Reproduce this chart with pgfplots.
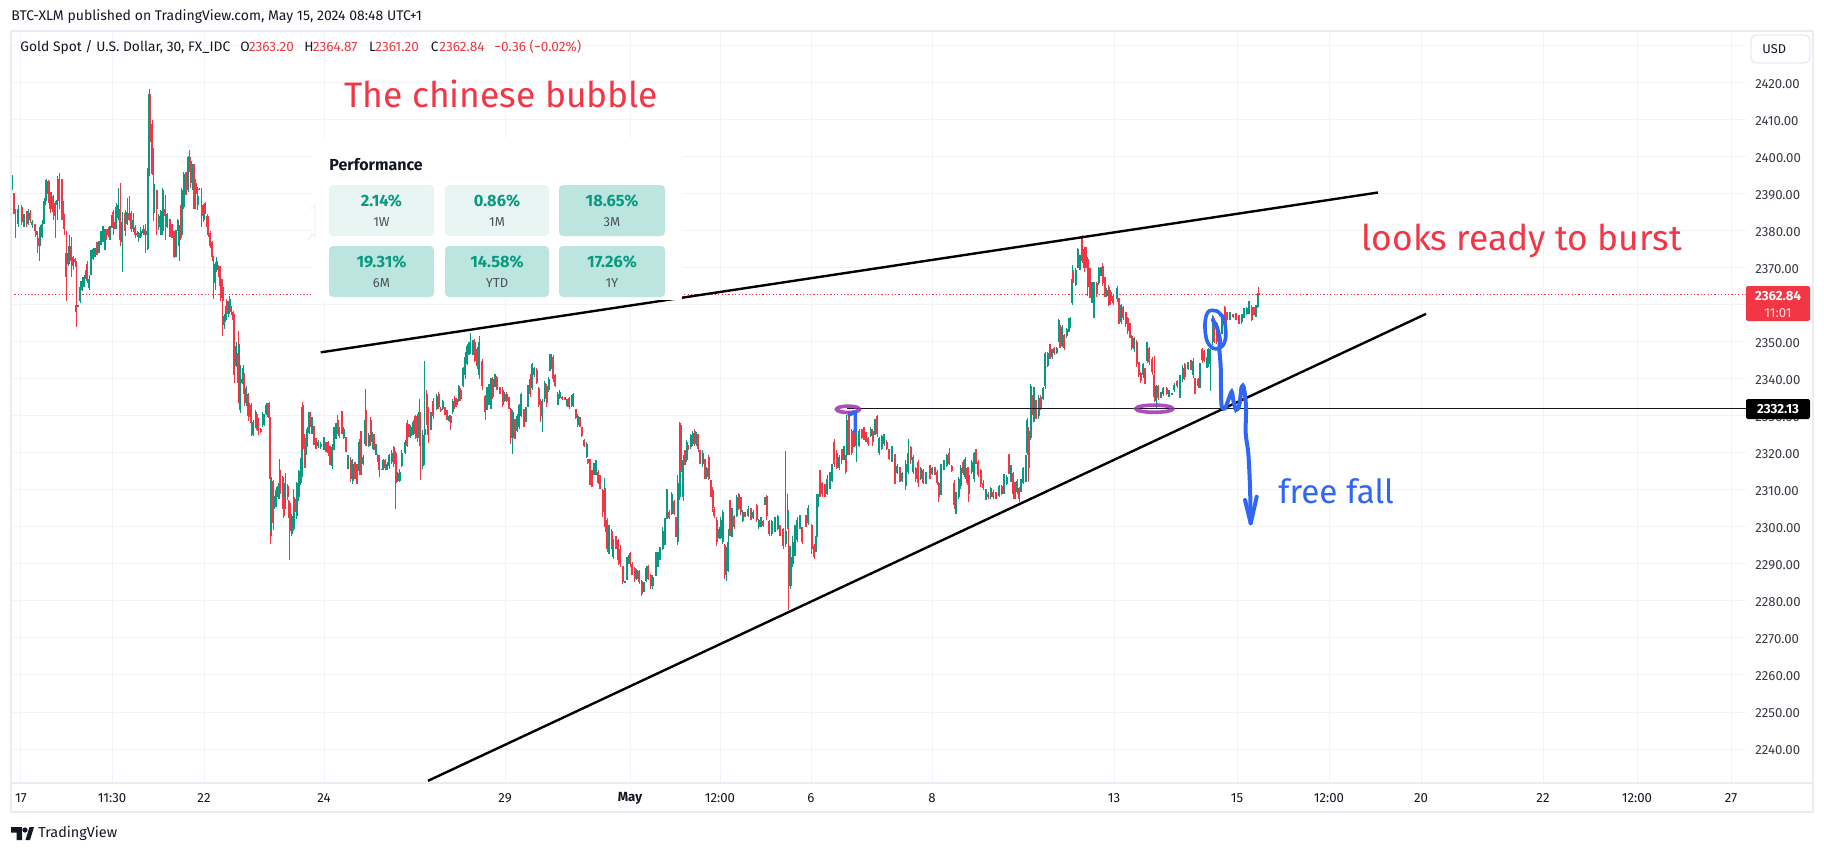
\documentclass[border=0pt]{standalone}
\usepackage{fontspec}
\usepackage{pgfplots}
\usepackage{pgfplotstable}
\pgfplotsset{compat=1.18}
\setmainfont{Fira Sans}
\definecolor{tvred}{HTML}{F23645}
\definecolor{tvgreen}{HTML}{089981}
\definecolor{tvtext}{HTML}{131722}
\definecolor{tvgrid}{HTML}{F2F3F8}
\definecolor{tvframe}{HTML}{E9ECF3}
\definecolor{tilelight}{HTML}{E8F5F2}
\definecolor{tiledark}{HTML}{BDE5DF}
\definecolor{penblue}{HTML}{2F66F5}
\definecolor{penpurple}{HTML}{9C2FB0}
\newcommand\fs[1]{\fontsize{#1}{#1}\selectfont}
\newcommand\lbl[6]{\node[anchor=#3,inner sep=0pt,text=#5,font=\fs{#4}] at (#1,#2) {#6};}
\newcommand\tile[6]{\fill[#5,rounded corners=2pt] (#1,#2) rectangle (#3,#4);
 \lbl{#1/2+#3/2}{#2+16}{center}{8.2}{tvgreen}{\bfseries #6}}
\pgfplotstableread{
x o h l c
12.5 2391.5 2395 2391 2395
14 2390 2390.4 2384.5 2386
15.3 2386 2386 2378 2384.5
18.3 2382 2387 2381 2386
21.7 2386.5 2387 2381.5 2382.5
24 2381.5 2384.5 2381 2384
26.7 2385 2385.5 2381 2382
28.3 2382 2386 2381.5 2385.5
30.3 2385 2385.8 2382.2 2383
32.3 2381.5 2383 2380.7 2382.5
35.3 2382 2382 2378.5 2380
37.3 2380 2380 2374 2379
39.3 2378 2378 2372 2376
40.3 2376.5 2381.5 2376 2381
42.3 2378.5 2383 2378 2382
44.3 2382 2389 2382 2388
45.7 2388 2393.7 2387 2393
46.7 2390 2394 2389.5 2393.5
48.7 2393.5 2393.7 2387.6 2388.5
50.3 2390 2390.5 2385 2386
51.7 2386.5 2390.5 2386 2389.5
53.3 2389 2389.6 2383 2385
55.3 2387.5 2388 2378 2384
57.3 2387 2395 2383 2388.5
59.3 2394 2395.6 2386 2388
62 2393.5 2394 2383 2386.5
63.3 2388 2388 2381.5 2384
64.3 2384 2384.5 2379 2380.5
66.3 2374 2380 2361 2367.5
68.3 2371 2376 2370.5 2374
69.3 2372 2379 2371 2376
71.3 2376 2378.5 2367.5 2372
73.3 2373 2373.3 2369.5 2370.5
75.3 2372.5 2372.8 2370.4 2371.5
76.3 2360 2372 2354 2358
78.3 2359.7 2360 2359.5 2360
80.3 2361 2366.5 2360.5 2365
82.3 2364 2367.5 2363.7 2366.5
84.3 2365 2368.2 2364.8 2367.5
86.3 2367 2370.2 2366.6 2369.5
87.3 2371 2372 2366 2367
89.3 2364.5 2368 2364 2367
91 2368 2375 2368 2374
93.3 2372.5 2375.5 2372.2 2375
95 2373 2375.5 2373 2375
97 2376.5 2376.9 2373.5 2374
99 2374.5 2377.4 2374 2377
101 2376.5 2380 2376.3 2379.5
103 2377 2381.3 2377 2381
105 2376.5 2380.6 2375 2378
106 2380 2380.5 2377.6 2378
108.3 2380.5 2381 2378.5 2379
110 2378.5 2381.3 2377.6 2380.7
112 2381 2384.4 2380.8 2384
113.3 2385 2385.6 2379 2381
115 2382 2382.5 2380.6 2381
116.3 2381 2387.5 2380.5 2386.5
118.3 2383.5 2391.5 2383 2387
120.3 2386 2393 2376 2377.5
122.3 2377 2385 2369 2382.5
125.3 2385 2385.6 2378.7 2380
127.3 2382 2389 2381.5 2385
129.3 2385 2389.5 2382.6 2383
131.3 2385 2385.3 2379.7 2380.5
133.3 2380.5 2385 2379.8 2383
135.3 2381 2381.7 2378.2 2379
137.3 2379.5 2380 2378.5 2379
138.7 2378 2379.7 2377 2379.5
140.7 2378.5 2381 2378.2 2380
143.3 2379.5 2381.5 2379 2380.5
145.3 2380.5 2382 2374 2379
147.3 2379 2380.3 2375 2380
148.3 2380 2397.5 2375 2397
149.3 2395 2418.5 2395 2417
150.3 2415 2417 2404 2404
152.3 2409 2410 2395 2395.5
153.3 2402 2402.5 2382.7 2395
154.3 2386 2392.8 2385 2391
156.7 2391 2391 2379 2386
158.7 2381 2384.6 2380.4 2384
160.7 2379 2385.7 2379 2385.5
162.7 2380 2391.7 2379 2391
165.3 2386 2389.6 2377.7 2384
167.3 2381 2385 2380.7 2384.5
170 2383 2383.3 2378.4 2380
172 2381.5 2382 2378 2378.5
174.3 2380 2380 2372.6 2373
176 2373.5 2380.2 2373 2380
177.7 2380 2383.3 2380 2383
179.3 2376 2381.5 2372 2380
180.7 2385 2387 2377.6 2378
181.7 2379 2391.7 2378.3 2391
183.7 2386.5 2396 2386 2395.5
186 2395.5 2396 2389.6 2390
188.3 2391 2400.2 2390.5 2400
189.7 2400 2402 2396 2396.5
190.7 2399 2400 2391.5 2393
192.7 2392 2398 2391 2396
194 2397.5 2398 2386 2391.5
195.7 2393 2394 2386 2390
197.7 2387 2392 2385.6 2389.5
199.3 2391.2 2391.5 2391 2391.3
201.7 2387 2391.7 2381 2384
203.7 2383 2387.4 2382.5 2387
205.3 2387.5 2387.7 2384.5 2384.5
207.3 2384 2384.5 2380.5 2381
208.3 2384 2384 2378.5 2379
210.3 2379.5 2380 2375.5 2376
212.3 2377 2377.3 2372.5 2373
213.3 2373 2373.2 2361.5 2372
215.3 2366 2371.5 2364 2371
216.7 2369.5 2373 2369 2372
218.7 2370.5 2370.7 2367.5 2368
220.3 2370 2370.6 2361 2365
221.7 2367 2367 2362 2363
222.7 2365 2365 2351.5 2361
224.3 2354.5 2357.5 2353.5 2357
225.7 2356 2359.8 2355.3 2359
226.7 2361 2361.5 2356.7 2357.5
228.7 2357.5 2361 2356.7 2360
229.7 2358.5 2362.4 2358 2361.5
231.3 2359.5 2359.7 2357.4 2358
233.3 2358 2358.5 2354.5 2356
234.3 2357 2357.5 2339 2341
236.3 2343.5 2350 2343.2 2349
238.3 2347 2353 2333.4 2339
239.3 2340 2349.5 2339.5 2349
240.3 2331.5 2343.7 2330.7 2342
242.3 2339 2340.4 2338.6 2340
243.3 2339 2343.7 2338.6 2343
244.3 2341.5 2341.7 2332.7 2336
246.3 2333.5 2338.2 2332.7 2337.5
248.3 2336 2336.3 2328.6 2330
249.3 2333 2333.4 2329.6 2330
251.3 2333 2333.6 2324.6 2328
253.3 2325 2329 2324.6 2328.5
255.7 2327 2331.7 2326.7 2331
256.7 2330.5 2331 2326.2 2327.5
258.3 2329 2329.4 2324.9 2326
260.7 2326.5 2326.7 2325.3 2325.7
262.7 2327.5 2331 2327 2330.5
264.3 2327.5 2330.5 2327.2 2330
266.3 2330.5 2333.4 2330.2 2333
267.7 2333 2333.4 2329.8 2330.3
269.3 2333.5 2333.8 2325.3 2329.5
270.3 2329.5 2329.8 2295.3 2313
271.3 2299 2313.6 2297.5 2313
273.3 2312.5 2312.8 2299.3 2301
274.7 2305.5 2308.3 2305 2308
276.3 2306 2310.8 2305.4 2310
278.3 2308 2311.7 2307.7 2311
279.3 2309 2318.5 2307.7 2312
280.3 2315 2315.4 2309 2310
282.7 2313.5 2313.8 2304.8 2305
283.7 2308 2308.4 2302.5 2303
285.3 2305 2314.7 2305 2312
287.7 2311 2311.6 2307.3 2308
288.7 2307 2307.3 2302.4 2303
289.7 2306.5 2307 2291 2299
291.7 2298 2303.4 2297.5 2303
293.7 2299.5 2310.2 2299 2306
294.7 2307.5 2308 2303.3 2304
296.7 2303 2312.2 2302.3 2312
298.7 2308 2315.4 2307 2315
300.7 2312 2318.6 2311.4 2318
301.7 2313.5 2332.4 2312.7 2321
302.7 2333 2333.7 2317.8 2321
304.7 2323.5 2325 2316 2316
305.7 2319.5 2324 2319 2323.5
307.3 2322 2326.9 2321.5 2326.5
309.3 2325.5 2331.2 2325.2 2331
310.3 2331 2331.2 2326.9 2328
312 2325.5 2329.8 2325.2 2328.5
314 2327 2327.4 2322.2 2323.5
316 2323.5 2324 2321 2322
318.3 2321.8 2323.5 2321.4 2323
320.7 2321.5 2323 2321 2322.5
324 2321 2324.3 2320.7 2323.5
326 2323 2323 2320.3 2321
328.3 2323 2323.2 2319.2 2320
330 2321.5 2322 2316.7 2318
332.3 2316.5 2322.5 2315.6 2321.5
334 2321 2327 2320.7 2326
336 2324 2328.2 2323.9 2327.5
337.7 2329 2330.2 2325.2 2326
339.3 2326.5 2327 2324 2324.5
342 2329 2331.4 2325.2 2326
343.7 2324 2327 2323.7 2326.5
346 2324 2324.3 2320.3 2320.5
348 2316 2319.5 2315.8 2319
350.7 2318 2319 2312.2 2313
352.7 2312.5 2318.5 2311.7 2317
355 2317 2317.6 2312.9 2314
357 2316 2317.1 2311.7 2313
359.3 2315 2323.9 2314 2323
361 2325 2325.9 2314 2316
363.3 2317 2319.4 2316.8 2319
365.3 2322.5 2337.4 2322 2329
366.3 2331 2331.5 2322 2323
368.7 2322 2325.5 2321.6 2325
370.7 2329 2329.7 2322 2323
372.7 2321.5 2325.7 2321.2 2325
374 2325 2325.2 2320.7 2321
376 2319.5 2322.3 2319.4 2322
377.7 2319.5 2319.8 2317.6 2318
379.3 2319 2319.4 2313.5 2315.5
381.7 2315.5 2315.7 2315.4 2315.6
383.3 2315.5 2318.5 2315.3 2318
385.3 2318 2318.3 2315.3 2316
387.3 2315.5 2317.6 2315.3 2317
389.3 2316.5 2319.8 2315.8 2319.5
391.7 2317.5 2320.7 2317.1 2320
393.7 2321.5 2322 2316.2 2317
395.7 2320 2320.5 2305 2312
397.7 2312.5 2314.9 2312.2 2314.5
399.7 2312.5 2315.8 2312.2 2315
401.7 2316.5 2320.7 2316.2 2320
405.3 2320 2323.4 2319.8 2323
407.3 2328 2328.8 2321.6 2322
409 2327.5 2327.9 2324.3 2325
410.7 2324.5 2327.5 2324 2327
413.3 2325 2328.8 2324.8 2328.5
415.3 2330 2330.2 2323.9 2325
417.3 2330 2330.6 2323 2324
419.3 2324 2334.7 2323 2331
420.3 2330.5 2331 2312.8 2322
422.7 2316.5 2326.1 2315.6 2325
424.7 2325 2345 2316.7 2326.5
426.7 2336 2336.9 2327.5 2328
428.3 2332 2332.4 2322.8 2325
431 2326.5 2331 2326.1 2330.5
433.3 2334 2334.9 2329.3 2330
436.7 2332 2336 2331.5 2335.5
438.7 2336 2336.5 2332 2332.5
440.7 2332 2332.4 2331 2331.5
442.7 2332 2334.2 2331.5 2334
445 2332 2332.4 2330.2 2330.5
447 2331 2331.5 2328.8 2329.5
449.3 2328.7 2330.4 2328.4 2330
450.7 2330 2330.4 2326.1 2328
452.7 2331 2334.7 2330.6 2334
454.7 2335 2335.4 2332 2332.5
456.7 2334.5 2334.9 2332.4 2333
458.7 2334 2338.3 2333.8 2338
460.7 2337 2337.6 2334 2334.5
463.3 2338 2343.2 2337.8 2343
465.3 2341 2347.3 2340.1 2346
467.3 2344 2349.5 2343.7 2349
469 2346.7 2350 2346.4 2349.5
470.3 2347 2352.5 2346.8 2350
473 2347 2350.5 2346.4 2350
474.7 2350 2350.7 2344.6 2345
477.3 2348 2348.6 2342.8 2343.5
479.3 2341 2351.6 2340.1 2350
482.3 2345 2345.5 2336.9 2338
485.3 2335.5 2335.8 2328.8 2331
487 2332 2337.8 2331.5 2336
489 2333.5 2338.7 2332.9 2338
491 2333 2340.3 2332 2340
492.7 2340 2340.5 2334.7 2335
495 2338 2341.4 2337.8 2341
496.7 2340.5 2340.8 2336.9 2337
500 2337.5 2337.8 2336 2336.5
502.7 2337 2337.8 2332.4 2333
504.7 2334 2336.5 2333.8 2336
506.7 2336 2336.5 2333.8 2334
509 2335 2335.1 2332 2332.5
510.7 2332 2332.2 2322.5 2324
512.7 2324 2331.5 2319.8 2331
515 2329 2329.3 2323.7 2324.5
517.3 2326 2330.6 2325.7 2330
519.3 2327 2333.3 2326.6 2333
521.3 2330 2336.3 2329.7 2336
524 2331.5 2331.8 2327 2328
526 2328.5 2332.4 2328.4 2332
528 2333 2338.3 2332.4 2338
530.3 2340 2341.4 2335.1 2336
532.3 2337.5 2344.4 2336.9 2344
534.3 2341 2343.2 2340.5 2343
536.7 2342.5 2343 2338.7 2339
538.7 2337.5 2337.8 2332.4 2333
540.7 2334 2334.7 2328.4 2330
542.3 2330 2334.7 2325.7 2334
544.7 2334.5 2339.6 2333.8 2339
546.7 2338 2338.7 2332.4 2333.5
548.7 2337 2340.5 2336.5 2340
550 2342.5 2346.8 2342.3 2346.5
551.7 2343 2346.8 2342.8 2345.5
553.3 2346 2346.4 2339.2 2340
555.3 2341 2341.4 2337.8 2338
557.7 2333 2336.5 2332.9 2336
559.7 2335 2336.9 2334.7 2336.5
562.3 2335 2335.4 2334.2 2334.5
565 2335 2335.1 2334.2 2334.5
567.3 2332.7 2334.7 2332.4 2334.5
569.3 2335 2335.1 2332 2332.5
571.7 2332.7 2335.6 2332.4 2335
573.3 2333 2336.3 2332.4 2336
575.7 2332 2332 2329.3 2329.5
577.7 2327.5 2330.6 2327 2330
580 2329.5 2329.7 2327 2327.5
581.7 2327 2327 2324.3 2324.5
584.3 2323.5 2323.9 2321.6 2322
586.7 2319 2323 2318.6 2322.5
587.7 2318.5 2318.5 2317 2317.2
590 2318 2318.5 2311.3 2312
592 2315 2315.3 2310.8 2311.5
594 2314.5 2317.4 2314 2317
596 2314.5 2318 2314 2318
598.3 2315 2315.3 2311.7 2312
600 2314 2314 2310.4 2311
602.7 2310 2310.4 2302.7 2304
604.3 2304 2313.2 2303.2 2310
605.3 2310 2310.5 2298.6 2300
607.3 2302 2302.4 2293.2 2294
609 2294 2300.6 2292.8 2300
611.7 2299 2299.5 2294.1 2295
613.3 2292 2296.8 2291.4 2296
616 2297 2297.7 2294.1 2294.5
618.3 2296.5 2296.8 2289.6 2291
620.3 2294 2295 2289.2 2290
622.7 2289.5 2289.6 2284.7 2285
625 2285 2285.3 2285 2285.2
627 2286 2291.9 2285.6 2291
628.7 2290.5 2292.5 2290.1 2292
630.3 2293 2293.2 2289.2 2290
632.3 2290 2290.5 2286.9 2287
634.7 2289 2289.2 2285.1 2286
636.7 2286 2288.7 2285.6 2288.5
639.3 2288 2288.3 2284.7 2285
641.7 2285.5 2285.6 2281.3 2282
644 2282.7 2285.1 2282.4 2284.5
646.3 2285.5 2289.6 2285.1 2289
648.3 2289.5 2289.6 2285.6 2286
650.7 2287 2287.4 2283.3 2284
652.7 2284 2286.9 2283.3 2286.5
656 2287 2293.2 2286.9 2292
658 2289.5 2293.2 2289.2 2293
660 2291.5 2294.6 2291 2294
662.7 2294 2300 2293.7 2299
665 2295.5 2302.3 2295 2301.5
667 2302.5 2310.4 2302.3 2309
669.3 2304 2304.5 2302.3 2302.5
671.7 2303.5 2309.5 2303.2 2309
674.3 2307 2307.2 2303.2 2303.5
676 2302 2302.7 2297.3 2298
677.7 2296 2314 2295.2 2312
679.7 2308 2328.4 2307.2 2327
680.7 2327.5 2328 2314 2315
683.3 2308 2319.4 2307 2318
685 2320 2320.7 2316.7 2317
686.7 2318 2323.4 2317.6 2323
688.3 2322 2322.3 2320.7 2321
690.7 2321.5 2325.2 2321.2 2325
692.7 2322.5 2325.9 2322 2325.5
694.7 2326 2326.6 2322 2322.5
696.7 2322.5 2325.7 2322 2325
698.3 2325 2325.2 2320.3 2321
700 2320 2320.7 2317.1 2318
702.7 2317 2320.7 2316.2 2320
705 2318 2318.5 2313 2314
706.7 2313.5 2316.2 2313 2316
708.7 2319 2319.4 2312.6 2313
711 2312 2312.6 2308.1 2309
712.7 2310 2310.8 2304 2305
714.3 2305 2305.4 2302.3 2303
716.7 2302 2302.7 2295 2296
719.3 2297 2300 2296.8 2299.5
720.7 2297 2302.7 2296.8 2302
722.7 2296 2304.5 2295.5 2304
724.7 2295 2295.5 2286 2290
726.3 2287 2294.6 2285.3 2293
728.3 2288 2299.5 2287.8 2296
730 2307 2307.2 2297.7 2299
732 2298 2305 2297.3 2304
734.3 2303 2303.2 2299.5 2300
736.7 2303 2308.6 2302.7 2308
738.7 2309 2309.3 2304.5 2305
740.7 2308 2308.1 2303.2 2304
742.7 2301.7 2304.5 2301.4 2304
745 2304 2304 2302.7 2303
748.3 2303 2305.6 2302.7 2305
751 2305 2305 2301.8 2302
753.3 2302.5 2304.5 2302.3 2304
756.7 2306 2306.3 2301.4 2302
758.7 2300 2302.3 2299.5 2302
761 2300.3 2302.7 2300 2302.5
763.3 2301.5 2301.8 2300 2300.3
765 2306 2308.1 2305.9 2308
766.7 2308.5 2308.7 2301.8 2303
769.3 2301.5 2301.8 2297.7 2298
771.7 2298 2301.8 2297.7 2301.5
775 2299 2302.7 2298.6 2302
777.7 2299.5 2303.2 2299.1 2303
780 2300 2300.5 2297.7 2298
783.3 2299.5 2299.7 2294.1 2295
785.7 2295.5 2320.5 2294.6 2299
787.7 2300 2309 2299.5 2304
788.7 2295 2304.5 2277.5 2284
790.7 2284 2295 2283.3 2292
792.7 2290 2297.7 2289.2 2296
795 2293 2300.5 2292.3 2299
797.3 2296.5 2302.7 2296 2302
800 2300 2303.2 2299.5 2303
802.3 2300 2300 2295.5 2296
806 2303 2303.2 2300 2300.5
808.3 2301 2305.9 2300.5 2305
811.7 2300.5 2300.9 2292.8 2294
814.3 2295 2295.5 2291.4 2292
816 2293.5 2297.7 2293.2 2297
817 2297.5 2309 2297.3 2308
818.3 2305.5 2309 2305.4 2308.5
820 2315 2315.3 2308.1 2309
822.3 2312 2312.2 2308.1 2309
825 2311.5 2311.7 2308.1 2308.5
827.3 2309 2314 2308.6 2313
830 2311 2314.9 2310.4 2314.5
832.3 2312.5 2317.1 2312.2 2317
834.3 2323 2323.9 2316.2 2317
836.7 2320 2320.7 2315.8 2316
839.3 2316 2319.4 2315.3 2319
841.7 2321 2321.2 2317.1 2318
844 2318.5 2322 2318 2321.5
845.7 2319 2319.4 2314.4 2315
846.7 2319.5 2330.2 2319 2329
849 2330 2331 2319.4 2320
851.7 2326 2326.6 2319.4 2320
854 2326 2326.1 2321.6 2322
856.3 2322 2326.1 2317.6 2326
859.3 2322 2326.6 2321.6 2326
861.7 2326.5 2326.6 2323.9 2324
864 2326.5 2327 2323.4 2324
866 2325.5 2325.7 2323 2323.5
868.3 2324 2324.3 2322 2322.5
870.7 2324.5 2327 2324.3 2326.5
872.7 2326 2326.6 2322 2323
875 2325 2329.3 2324.8 2329
877.3 2330 2330.2 2324.3 2325
879.3 2320 2324.3 2319.4 2324
881.7 2321 2324.8 2320.7 2324.5
884.3 2322.5 2325.2 2322 2325
886.7 2323 2323.4 2320.7 2321
889.3 2321 2321.2 2318 2318.5
892 2318 2322 2317.6 2321.5
895 2319.5 2319.8 2311.7 2314
897.3 2314.7 2317.1 2314.4 2316.5
900 2316 2316.2 2312.2 2313
902.3 2312.5 2314.9 2312.2 2314.5
905.7 2311 2318 2309.9 2317
908.3 2315 2323.9 2314.4 2320
910.7 2321.5 2322 2317.1 2318
913.3 2315 2319.4 2314.4 2319
915.7 2316 2316.2 2312.2 2313
918.3 2317.5 2318 2310.8 2312
920.7 2313 2316.2 2312.6 2316
923.3 2315.5 2315.8 2311.7 2312
926 2312 2314.9 2311.7 2314.5
930 2316.5 2316.7 2313 2313.5
932.3 2314.3 2316.2 2314 2316
935 2316 2316.2 2314 2314.5
937.3 2315 2315.3 2311.3 2312
938.7 2312 2312.2 2306.8 2308
941 2309 2317.1 2308.6 2316
944 2315.5 2318 2315.3 2317.5
946.7 2316.5 2319.8 2316.2 2319.5
949.3 2320 2321.4 2316.7 2317
951.7 2316.5 2316.7 2314.9 2315
954.3 2312 2312.6 2305 2306
956 2304.5 2309.5 2303.6 2309
958.7 2308 2313.5 2307.7 2313
960.7 2311 2316.7 2310.4 2316
963.3 2317.5 2318 2314 2314.5
965.3 2313.5 2318.9 2313 2318.5
967.3 2316 2316.2 2311.3 2312
968.7 2314 2316.2 2306.8 2309
971.7 2315 2318 2314.4 2317.5
974.3 2313 2320.3 2312.2 2320
976 2321 2321.2 2317.1 2317.5
978.3 2317.5 2318 2313.5 2314
980.7 2315.5 2315.8 2310.8 2311.5
983.3 2312 2312.6 2309.9 2310.5
986 2307.5 2310.4 2307.2 2310
988.3 2309 2309.5 2307.7 2308
990.7 2308 2310.8 2307.7 2310.5
993.3 2309.5 2309.9 2307.7 2308
996 2309 2309.5 2307.7 2308
999.3 2308.5 2311.3 2308.1 2311
1001.7 2311 2311.3 2308.6 2309
1004 2309.5 2314.4 2309 2314
1006.7 2311.5 2314 2311.3 2313.5
1009 2319 2319.8 2314.4 2315
1011 2312.5 2316.7 2312.2 2316
1013.3 2314.5 2314.9 2307.7 2309
1015 2312 2312.2 2307.7 2308.5
1017.3 2309.5 2313 2309 2312.5
1019.3 2310.5 2310.8 2306.8 2307.5
1021 2310 2313 2309.5 2312.5
1023.3 2312 2316.2 2311.7 2316
1026 2313 2319.4 2312.2 2319
1027.3 2320 2329.5 2319.4 2329
1028.7 2326 2327 2312.2 2316
1030.7 2324 2338.7 2323.4 2338
1032 2335 2335.6 2330.2 2331
1034 2329 2337.8 2328.4 2336
1036 2334 2334.2 2329.3 2330
1038.7 2330 2335.6 2329.3 2335
1040.7 2335 2335.6 2331.5 2332
1043.3 2334.5 2337.8 2334.2 2337.5
1045.3 2338 2347.3 2337.4 2347
1047.7 2343.5 2347.3 2343.2 2347
1050 2349 2349.5 2345.5 2346
1052.3 2346 2348.2 2345.5 2348
1054.3 2348.5 2348.6 2346.4 2347
1056.7 2347 2348.6 2346.8 2348.5
1058.7 2350.5 2356.2 2350.1 2356
1060 2354.5 2354.6 2348.3 2349
1062.3 2349 2354.6 2348.7 2354
1064.3 2352 2352.3 2347.8 2348.5
1066.7 2351.5 2353.7 2351 2353.5
1069 2353 2356.4 2352.8 2356
1070.3 2354 2356.8 2353.7 2356.5
1072.3 2360.5 2370.8 2360 2367
1073.3 2369 2369.5 2365.9 2366
1075.7 2365.5 2369.9 2365 2369.5
1077.7 2370 2375.5 2369.9 2375
1080 2370 2373.5 2369.5 2373
1082.3 2378 2378.9 2371.3 2372
1084.3 2375 2375.8 2369 2370
1086 2375.5 2375.8 2369.9 2371
1087.7 2372.5 2373 2362.3 2365
1090 2369.5 2369.9 2361.8 2363
1092 2361 2366.3 2360.5 2366
1094 2361 2366.3 2356.4 2365
1096.7 2366 2366.3 2362.3 2363
1098.7 2366 2370.4 2365.4 2370
1101 2368 2370.4 2367.7 2370
1102.7 2370.5 2371.3 2365 2366
1105 2367.5 2367.7 2362.3 2363
1106.7 2362.5 2364.5 2362.3 2364
1108.7 2365 2365.4 2359.8 2360
1110.7 2363.5 2364 2360 2361
1113.3 2362.5 2362.7 2360 2360.5
1117.3 2361.5 2365 2360.9 2364.5
1119 2361.5 2361.8 2354.8 2356
1121.3 2355.5 2360.2 2355 2360
1123.3 2359.5 2359.8 2355.9 2356.5
1125.7 2358 2358.2 2354.1 2355
1127.7 2356.5 2356.8 2352.3 2353
1130 2354.5 2355 2351 2351.5
1131.7 2351.5 2351.9 2347.8 2348.5
1134.3 2348 2351.4 2347.4 2351
1136.7 2350 2350.5 2343.3 2344
1138.7 2344.5 2344.7 2340.6 2341
1140.7 2341.5 2342 2338.8 2339.5
1143.3 2341 2344.2 2340.2 2344
1145 2342.5 2342.9 2338.6 2339.5
1147.3 2345 2350.1 2344.2 2350
1149.3 2348.5 2348.7 2343.8 2344.5
1152.3 2345.5 2346 2341.1 2342
1154.3 2341 2346.3 2333.7 2335
1156.3 2334 2338.4 2332 2338
1158.3 2338 2338.4 2334.3 2335
1160.7 2335 2336.6 2334.8 2336.5
1163.3 2336 2337.9 2335.5 2337.5
1166.7 2337.5 2337.9 2335.7 2336
1169 2335.5 2337 2335.2 2336.8
1171.7 2336 2336.2 2335.9 2336.1
1174.3 2337 2338.8 2336.6 2338.5
1177.3 2339.5 2339.7 2337.5 2338
1180 2336 2341 2334.8 2340.5
1182.7 2340 2343.8 2339.3 2343
1184.7 2344 2344.2 2339.7 2340.5
1188.3 2342.7 2344.7 2342.4 2344.5
1191 2345 2345.1 2342.4 2343
1193.3 2341 2345.6 2340.2 2345
1195 2340 2340.2 2335.9 2337
1198.3 2340 2340.2 2337.5 2338
1200 2338 2344.2 2337.5 2344
1202.3 2348 2348.3 2344.2 2345
1204.3 2347.5 2347.8 2344.7 2345
1206.7 2343 2346 2342.9 2345.5
1208.3 2344 2348.3 2343.3 2348
1210.3 2344 2348.7 2336.8 2348
1212.7 2350 2357.3 2349.2 2357
1214.3 2356 2356.4 2349.6 2351
1216.7 2355 2355.5 2349.6 2350
1220 2348.5 2352.3 2347.8 2352
1222 2352.5 2356.4 2352.3 2356
1224.7 2359.5 2359.8 2354.6 2356
1226.7 2358 2358.2 2355 2356
1230 2356.5 2358.2 2356 2358
1233.3 2357.5 2357.7 2356.4 2356.7
1236 2357.5 2357.7 2355.9 2356.2
1239 2357 2357.3 2354.8 2355.2
1241.7 2355.5 2357.7 2355 2357.5
1244 2356.7 2359.3 2356.4 2359
1246.7 2357.7 2359.5 2357.3 2359.3
1249 2358 2361.1 2357.7 2361
1251.7 2359.5 2360 2355.7 2356
1254 2359 2359.5 2357.3 2357.7
1256 2357 2360 2356.8 2359.8
1257.7 2359.5 2363.2 2359.1 2363
1258.7 2363.20 2364.87 2361.20 2362.84
}\candles
\begin{document}
\begin{tikzpicture}
\path[use as bounding box] (0,0) rectangle (912pt,426pt);
\begin{axis}[
  at={(5.5pt,34.5pt)}, anchor=south west,
  width=867.5pt, height=376.5pt, scale only axis,
  xmin=11, xmax=1746, ymin=2230.81, ymax=2434.32,
  axis line style={draw=none}, major tick length=0pt,
  xtick={21,112,204,324,505,630,720,811,932,1114,1237,1329,1421,1543,1637,1731},
  xticklabels={17,11:30,22,24,29,\textbf{May},12:00,6,8,13,15,12:00,20,22,12:00,27},
  ytick={2240,2250,2260,2270,2280,2290,2300,2310,2320,2330,2340,2350,2360,2370,2380,2390,2400,2410,2420,2430},
  yticklabels={2240.00,2250.00,2260.00,2270.00,2280.00,2290.00,2300.00,2310.00,2320.00,2330.00,2340.00,2350.00,,2370.00,2380.00,2390.00,2400.00,2410.00,2420.00,},
  yticklabel pos=right,
  xmajorgrids, ymajorgrids, grid style={tvgrid, line width=0.5pt},
  xticklabel style={anchor=center, yshift=-7.5pt, inner sep=0pt, font=\fs{6.6}, text=tvtext},
  yticklabel style={anchor=west, xshift=4.5pt, yshift=-0.5pt, inner sep=0pt, font=\fs{6.6}, text=tvtext!85},
]
\addplot[tvred, line width=0.5pt, dash pattern=on 0.6pt off 1.1pt, forget plot] coordinates {(11,2362.84)(1746,2362.84)};
% wicks and bodies, rising and falling
\addplot[draw=none, forget plot, unbounded coords=discard, error bars/.cd, y dir=both, y explicit, error mark=none, error bar style={draw=tvgreen, line width=0.55pt}]
 table[x=x, y expr={\thisrow{c}>=\thisrow{o} ? (\thisrow{h}+\thisrow{l})/2 : nan}, y error expr={(\thisrow{h}-\thisrow{l})/2}] {\candles};
\addplot[draw=none, forget plot, unbounded coords=discard, error bars/.cd, y dir=both, y explicit, error mark=none, error bar style={draw=tvred, line width=0.55pt}]
 table[x=x, y expr={\thisrow{c}<\thisrow{o} ? (\thisrow{h}+\thisrow{l})/2 : nan}, y error expr={(\thisrow{h}-\thisrow{l})/2}] {\candles};
\addplot[draw=none, forget plot, unbounded coords=discard, error bars/.cd, y dir=both, y explicit, error mark=none, error bar style={draw=tvgreen, line width=0.85pt}]
 table[x=x, y expr={\thisrow{c}>=\thisrow{o} ? (\thisrow{c}+\thisrow{o})/2 : nan}, y error expr={(\thisrow{c}-\thisrow{o})/2}] {\candles};
\addplot[draw=none, forget plot, unbounded coords=discard, error bars/.cd, y dir=both, y explicit, error mark=none, error bar style={draw=tvred, line width=0.85pt}]
 table[x=x, y expr={\thisrow{c}<\thisrow{o} ? (\thisrow{c}+\thisrow{o})/2 : nan}, y error expr={(\thisrow{o}-\thisrow{c})/2}] {\candles};
% drawn trend lines
\addplot[black, line width=1.2pt, forget plot] coordinates {(320.7,2347.2)(1378,2390.4)};
\addplot[black, line width=1.2pt, forget plot] coordinates {(428,2231.4)(1426,2357.6)};
\addplot[tvtext, line width=0.6pt, forget plot] coordinates {(847,2332.13)(1746,2332.13)};
\end{axis}
\begin{axis}[
  at={(0pt,0pt)}, anchor=south west,
  width=912pt, height=426pt, scale only axis,
  xmin=0, xmax=1824, ymin=0, ymax=852, y dir=reverse,
  hide axis, clip=false,
]
% performance panel
\fill[white] (312,138) rectangle (682,300);
\draw[tvgrid, line width=0.7pt] (309,208) -- (312,208) arc[start angle=90,end angle=0,x radius=3,y radius=3] -- (315,237) arc[start angle=0,end angle=-90,x radius=3,y radius=3] -- (309,240);
\lbl{329}{165}{west}{8}{tvtext}{\bfseries Performance}
\tile{329}{185}{434}{236}{tilelight}{2.14\%}
\tile{445}{185}{549}{236}{tilelight}{0.86\%}
\tile{559}{185}{665}{236}{tiledark}{18.65\%}
\tile{329}{246}{434}{297}{tiledark}{19.31\%}
\tile{445}{246}{549}{297}{tiledark}{14.58\%}
\tile{559}{246}{665}{297}{tiledark}{17.26\%}
\lbl{381.5}{222}{center}{6.5}{tvtext!75}{1W}
\lbl{497}{222}{center}{6.5}{tvtext!75}{1M}
\lbl{612}{222}{center}{6.5}{tvtext!75}{3M}
\lbl{381.5}{283}{center}{6.5}{tvtext!75}{6M}
\lbl{497}{283}{center}{6.5}{tvtext!75}{YTD}
\lbl{612}{283}{center}{6.5}{tvtext!75}{1Y}
% frame of the chart
\draw[tvframe, line width=1.2pt] (11,31) rectangle (1813,812);
\draw[tvframe, line width=0.9pt] (11,783) -- (1813,783);
% header text
\lbl{11}{17}{west}{7}{tvtext}{BTC-XLM published on TradingView.com, May 15, 2024 08:48 UTC+1}
\lbl{20}{47}{west}{6.9}{tvtext}{Gold Spot / U.S. Dollar, 30, FX\_IDC}
\lbl{240}{47}{west}{6.8}{tvtext}{O}
\lbl{248.5}{47}{west}{6.8}{tvred}{2363.20}
\lbl{304}{47}{west}{6.8}{tvtext}{H}
\lbl{312.5}{47}{west}{6.8}{tvred}{2364.87}
\lbl{368.8}{47}{west}{6.8}{tvtext}{L}
\lbl{375}{47}{west}{6.8}{tvred}{2361.20}
\lbl{430.5}{47}{west}{6.8}{tvtext}{C}
\lbl{439}{47}{west}{6.8}{tvred}{2362.84}
\lbl{494}{47}{west}{6.8}{tvred}{−0.36 (−0.02\%)}
% author's captions
\lbl{344}{94}{west}{17.7}{tvred}{The chinese bubble}
\lbl{1361}{241}{west}{17.7}{tvred}{looks ready to burst}
\lbl{1278}{491}{west}{16.6}{penblue}{free fall}
% price scale widgets
\draw[tvframe, fill=white, line width=0.7pt, rounded corners=2.5pt] (1751,35) rectangle (1810,63);
\lbl{1762}{49}{west}{6.4}{tvtext}{USD}
\fill[tvred, rounded corners=0.8pt] (1746,286) rectangle (1810,321);
\lbl{1778}{296}{center}{6.6}{white}{\bfseries 2362.84}
\lbl{1778}{313}{center}{6.6}{white!85!tvred}{11:01}
\fill[black, rounded corners=0.8pt] (1746,399) rectangle (1810,419);
\lbl{1778}{409}{center}{6.6}{white}{\bfseries 2332.13}
% drawn marks
\draw[penpurple, opacity=0.85, line width=1.8pt] (848,409.3) ellipse[x radius=11.5, y radius=3.2];
\draw[penpurple, opacity=0.85, line width=1.8pt] (1154.3,408.7) ellipse[x radius=18.5, y radius=3.6];
\addplot[penblue, line width=1.8pt, line join=round, line cap=round, forget plot] coordinates {(855.3,431.7)(855.3,412)(849,415)};
\addplot[penblue, line width=2pt, smooth, tension=0.5, line cap=round, forget plot] coordinates {(1212.7,320)(1216.7,326.7)(1220,340)(1219.3,348.3)(1220.7,366.7)(1221,390)(1221.7,406.7)(1225,408.3)(1228.3,400)(1231.7,391.7)(1233.3,400)(1236,410)(1239.3,405)(1241.7,386.7)(1244,388.3)(1246,406.7)(1245.7,433.3)(1248.3,453.3)(1250,486.7)(1250.7,523.3)};
\addplot[penblue, line width=2pt, line join=round, line cap=round, forget plot] coordinates {(1245,500)(1250.7,523.3)(1256.7,496.7)};
\addplot[penblue, line width=1.8pt, smooth, tension=0.6, line cap=round, forget plot] coordinates {(1222.7,316.7)(1216.7,311)(1208.3,311.7)(1205,323.3)(1206.7,340)(1213.3,348.3)(1221.7,346.7)(1225.7,336.7)(1224.3,320)(1220,314.3)};
% TradingView logo and name
\fill[tvtext] (11,827) -- (22,827) -- (22,840) -- (16.5,840) -- (16.5,832.5) -- (11,832.5) -- cycle;
\fill[tvtext] (25,830) circle[radius=2.6];
\fill[tvtext] (25.5,840) -- (29.5,827) -- (34,827) -- (30,840) -- cycle;
\lbl{38}{833}{west}{7.2}{tvtext}{TradingView}
\end{axis}
\end{tikzpicture}
\end{document}
